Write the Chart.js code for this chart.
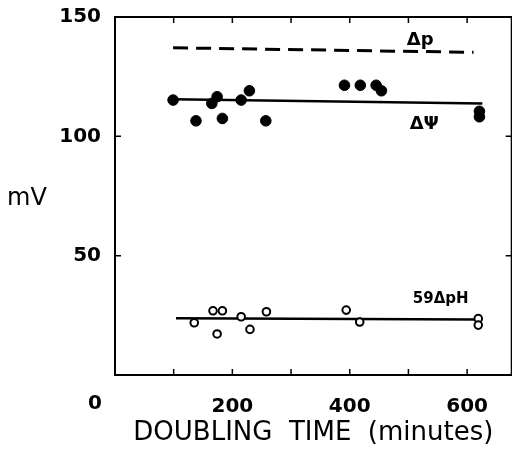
<!DOCTYPE html>
<html>
<head>
<meta charset="utf-8">
<script src="https://cdn.jsdelivr.net/npm/chart.js@4.4.1/dist/chart.umd.min.js"></script>
<style>
  html, body { margin: 0; padding: 0; background: #fff; overflow: hidden; }
  #wrap { width: 518px; height: 449px; position: relative; }
</style>
</head>
<body>
<div id="wrap"><canvas id="chart"></canvas></div>
<script>
// delta psi, filled dots
const psiTime = [99, 138, 165, 174, 183, 215, 229, 257, 391, 418, 445, 454, 621, 621];
const psiMV = [115.2, 106.5, 113.8, 116.6, 107.5, 115.2, 119.1, 106.5, 121.4, 121.4, 121.4, 119.1, 110.5, 108.2];

// 59 delta pH, open circles
const phTime = [135, 167, 183, 174, 215, 230, 258, 394, 417, 619, 619];
const phMV = [21.9, 26.9, 26.9, 17.2, 24.4, 19.1, 26.5, 27.2, 22.2, 23.6, 20.9];

// fitted lines (ends only)
const psiFitTime = [99, 626];
const psiFitMV = [115.5, 113.8];
const dpFitTime = [99, 611];
const dpFitMV = [137.1, 135.2];
const phFitTime = [104, 614];
const phFitMV = [23.8, 23.3];

const xTickValues = [100, 200, 300, 400, 500, 600];
const xLabelValues = [200, 400, 600];
const yTickValues = [50, 100, 150];

const seriesNames = ['\u0394p', '\u0394\u03A8', '59\u0394pH'];
const nameTime = [520, 527, 555];
const nameMV = [140.3, 105.2, 31.8];

function pts(xs, ys) {
  return xs.map((x, i) => ({ x: x, y: ys[i] }));
}

const framePlugin = {
  id: 'frame',
  afterDraw(chart) {
    const ctx = chart.ctx;
    const a = chart.chartArea;
    const xs = chart.scales.x;
    const ys = chart.scales.y;
    ctx.save();
    ctx.strokeStyle = '#000';
    ctx.lineWidth = 2;
    ctx.strokeRect(a.left, a.top, a.right - a.left, a.bottom - a.top);
    ctx.lineWidth = 1.5;
    ctx.beginPath();
    xTickValues.forEach(v => {
      const px = xs.getPixelForValue(v);
      ctx.moveTo(px, a.bottom); ctx.lineTo(px, a.bottom - 6);
      ctx.moveTo(px, a.top); ctx.lineTo(px, a.top + 6);
    });
    yTickValues.forEach(v => {
      const py = ys.getPixelForValue(v);
      ctx.moveTo(a.left, py); ctx.lineTo(a.left + 6, py);
      ctx.moveTo(a.right, py); ctx.lineTo(a.right - 6, py);
    });
    ctx.stroke();

    ctx.fillStyle = '#000';
    ctx.textAlign = 'center';
    ctx.textBaseline = 'middle';
    ctx.font = 'bold 18px "DejaVu Sans"';
    seriesNames.forEach((t, i) => {
      if (i === 2) ctx.font = 'bold 15px "DejaVu Sans"';
      ctx.fillText(t, xs.getPixelForValue(nameTime[i]), ys.getPixelForValue(nameMV[i]));
    });

    // origin label sits left of the corner
    ctx.font = 'bold 20px "DejaVu Sans"';
    ctx.fillText('0', a.left - 20, a.bottom + 29);

    ctx.font = '24px "DejaVu Sans"';
    ctx.fillText('mV', a.left - 88, ys.getPixelForValue(74));
    ctx.restore();
  }
};

new Chart(document.getElementById('chart'), {
  type: 'scatter',
  data: {
    datasets: [
      {
        data: pts(psiTime, psiMV),
        backgroundColor: '#000',
        borderColor: '#000',
        pointRadius: 5.3,
        order: 0
      },
      {
        data: pts(phTime, phMV),
        backgroundColor: '#fff',
        borderColor: '#000',
        borderWidth: 2,
        pointRadius: 3.8,
        order: 0
      },
      {
        data: pts(psiFitTime, psiFitMV),
        showLine: true,
        borderColor: '#000',
        borderWidth: 2.5,
        pointRadius: 0,
        order: 1
      },
      {
        data: pts(dpFitTime, dpFitMV),
        showLine: true,
        borderColor: '#000',
        borderWidth: 3,
        borderDash: [15, 8],
        pointRadius: 0,
        order: 1
      },
      {
        data: pts(phFitTime, phFitMV),
        showLine: true,
        borderColor: '#000',
        borderWidth: 2.5,
        pointRadius: 0,
        order: 1
      }
    ]
  },
  options: {
    responsive: true,
    maintainAspectRatio: false,
    animation: false,
    layout: { padding: { top: 17, right: 1, left: 0, bottom: 0 } },
    plugins: {
      legend: { display: false },
      tooltip: { enabled: false }
    },
    scales: {
      x: {
        type: 'linear',
        min: 0,
        max: 676,
        afterFit: s => { s.height = 74; s.paddingLeft = 0; s.paddingRight = 0; },
        afterBuildTicks: s => { s.ticks = xLabelValues.map(v => ({ value: v })); },
        grid: { display: false, drawTicks: false },
        border: { display: false },
        ticks: {
          padding: 20,
          color: '#000',
          font: { family: 'DejaVu Sans', size: 20, weight: 'bold' },
          maxRotation: 0,
          autoSkip: false
        },
        title: {
          display: true,
          text: 'DOUBLING  TIME  (minutes)',
          color: '#000',
          font: { family: 'DejaVu Sans', size: 26 },
          padding: { top: 0, bottom: 0 }
        }
      },
      y: {
        min: 0,
        max: 150,
        afterFit: s => { s.width = 115; s.paddingTop = 0; s.paddingBottom = 0; },
        afterBuildTicks: s => { s.ticks = yTickValues.map(v => ({ value: v })); },
        grid: { display: false, drawTicks: false },
        border: { display: false },
        ticks: {
          padding: 14,
          color: '#000',
          font: { family: 'DejaVu Sans', size: 20, weight: 'bold' }
        }
      }
    }
  },
  plugins: [framePlugin]
});
</script>
</body>
</html>
